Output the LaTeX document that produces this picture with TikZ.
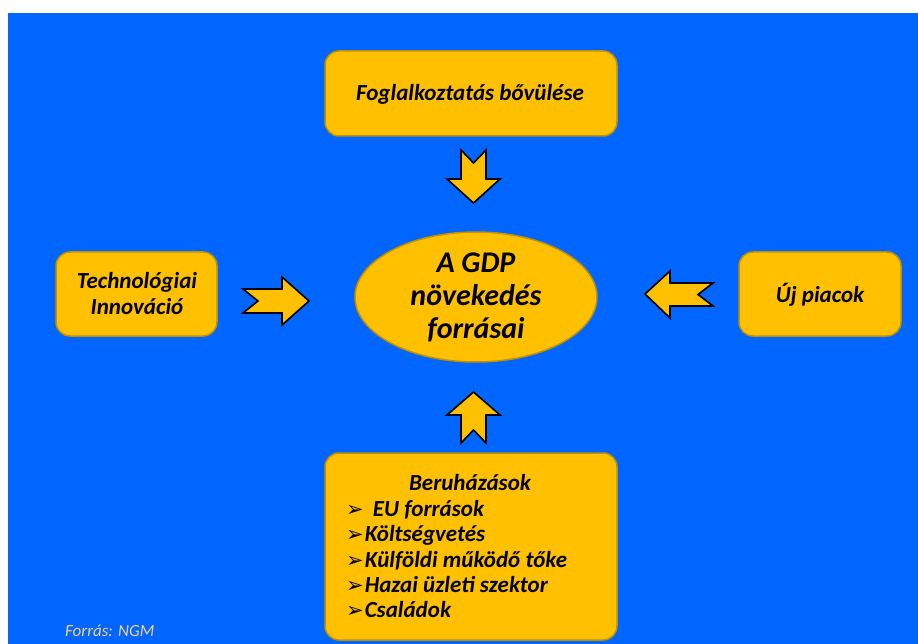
\documentclass[tikz,border=0pt]{standalone}
\usepackage{fontspec}
\setmainfont{Carlito}
\newfontfamily\dejavu{DejaVu Sans}
\definecolor{bgblue}{HTML}{0066FF}
\definecolor{gold}{HTML}{FFC000}
\definecolor{goldedge}{HTML}{BF9000}
\definecolor{srcgold}{HTML}{F2D27A}
\newcommand{\blt}{{\dejavu\fontsize{21}{22}\selectfont ➢}}
\begin{document}
\begin{tikzpicture}[x=1pt,y=-1pt,
  box/.style={draw=goldedge,line width=1.5pt,fill=gold,rounded corners=14pt},
  blockarrow/.style={draw=black,line width=1.6pt,fill=gold,line join=miter},
  lbl/.style={font=\fontsize{23}{26}\selectfont\bfseries\itshape,text=black,inner sep=0pt},
  item/.style={font=\fontsize{23}{26}\selectfont\bfseries\itshape,text=black,inner sep=0pt,anchor=base west}]
\useasboundingbox (0,0) rectangle (918,644);
\fill[white] (0,0) rectangle (918,644);
\fill[bgblue] (8,13) rectangle (918,644);
% boxes
\draw[box] (325,51) rectangle (617,136);
\draw[box] (56,252) rectangle (217,336);
\draw[box] (739,252) rectangle (901,336);
\draw[box] (325,453) rectangle (617,640);
\draw[goldedge,line width=1.5pt,fill=gold] (476,297) ellipse [x radius=121,y radius=65];
% texts
\node[lbl,anchor=base] (top) at (470,101) {Foglalkoztatás bővülése};
\node[lbl,anchor=base] (left1) at (137,288) {Technológiai};
\node[lbl,anchor=base] (left2) at (137,314) {Innováció};
\node[lbl,anchor=base] (right) at (820,302) {Új piacok};
\node[font=\fontsize{30}{33}\selectfont\bfseries\itshape,align=center,inner sep=0pt] (gdp) at (476,297) {A GDP\\növekedés\\forrásai};
\node[lbl,anchor=base] (beru) at (470,490) {Beruházások};
\node[item] (i1) at (346,516) {\blt\ \,EU források};
\node[item] (i2) at (346,541) {\blt\hspace{1pt}Költségvetés};
\node[item] (i3) at (346,567) {\blt\hspace{1pt}Külföldi működő tőke};
\node[item] (i4) at (346,592) {\blt\hspace{1pt}Hazai üzleti szektor};
\node[item] (i5) at (346,617) {\blt\hspace{1pt}Családok};
\node[font=\fontsize{17}{20}\selectfont\itshape,text=srcgold,anchor=base west,inner sep=0pt] (src) at (65,636) {Forrás: NGM};
% block arrows
\draw[blockarrow] (243,289) -- (282,289) -- (282,277) -- (309,301) -- (282,325) -- (282,313) -- (243,313) -- (258,301) -- cycle;
\draw[blockarrow] (645,294) -- (670,271) -- (670,283) -- (713,283) -- (698,294.5) -- (713,306) -- (670,306) -- (670,318) -- cycle;
\draw[blockarrow] (461,150) -- (473.5,163) -- (486,150) -- (486,179) -- (500,179) -- (473.5,203) -- (447,179) -- (461,179) -- cycle;
\draw[blockarrow] (473.5,392) -- (500,415) -- (486,415) -- (486,443) -- (473.5,430) -- (461,443) -- (461,415) -- (447,415) -- cycle;
\end{tikzpicture}
\end{document}
